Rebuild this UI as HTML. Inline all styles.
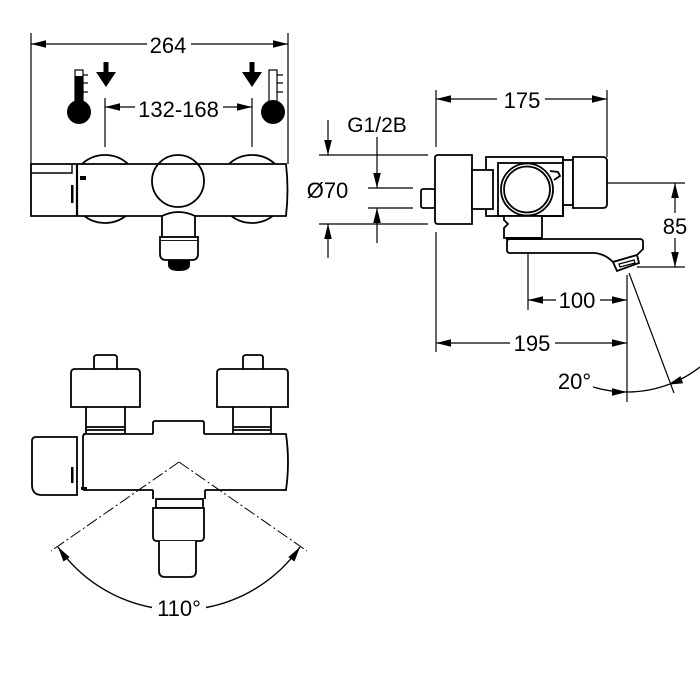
<!DOCTYPE html>
<html><head><meta charset="utf-8"><style>html,body{margin:0;padding:0;background:#fff}svg{display:block}text{font-family:"Liberation Sans",Arial,sans-serif;fill:#000}</style></head>
<body>
<svg width="700" height="700" viewBox="0 0 700 700" xmlns="http://www.w3.org/2000/svg">
<rect width="700" height="700" fill="#fff"/>

<!-- ===== FRONT VIEW ===== -->
<g stroke="#000" stroke-width="1.2" fill="none">
  <path d="M31,33 V164 M288,33 V164 M31,44 H147 M191,44 H288 M105,98 V147 M252,98 V147 M105,107 H135 M223,107 H252"/>
</g>
<g fill="#000">
  <polygon points="31,44 46,40.2 46,47.8"/>
  <polygon points="288,44 273,40.2 273,47.8"/>
  <polygon points="105,107 120,103.2 120,110.8"/>
  <polygon points="252,107 237,103.2 237,110.8"/>
  <!-- down arrows -->
  <rect x="103.5" y="62" width="5" height="11"/>
  <polygon points="96,72 116,72 106,87"/>
  <rect x="249.5" y="62" width="5" height="11"/>
  <polygon points="242,72 262,72 252,87"/>
</g>
<text x="168" y="53" font-size="22" text-anchor="middle">264</text>
<text x="178.5" y="117" font-size="22" text-anchor="middle">132-168</text>

<!-- thermometers -->
<rect x="75" y="70" width="8" height="38" fill="#fff" stroke="#000" stroke-width="1.2"/>
<rect x="75" y="76" width="8" height="32" fill="#000"/>
<circle cx="79" cy="112" r="12" fill="#000"/>
<path d="M83,75 H88 M83,83 H88 M83,92 H88" stroke="#000" stroke-width="1.2"/>
<rect x="269" y="70" width="8" height="36" fill="#fff" stroke="#000" stroke-width="1.2"/>
<circle cx="273" cy="112" r="12" fill="#000"/>
<path d="M277,75 H283 M277,83 H283 M277,92 H283" stroke="#000" stroke-width="1.2"/>

<g stroke="#000" stroke-width="1.8" fill="#fff">
  <circle cx="105" cy="189" r="34"/>
  <circle cx="252" cy="189" r="34"/>
  <path d="M31,164 H286 Q289,190 286,216 H31 Z"/>
  <circle cx="178" cy="181" r="26" fill="none"/>
  <path d="M162,238 V216 Q178.5,208 195,216 V238" fill="#fff"/>
  <rect x="160" y="237" width="38" height="4"/>
  <path d="M160,241 V254 Q160,260 166,260 H192 Q198,260 198,254 V241"/>
</g>
<path d="M31,173 H72 V164" stroke="#000" stroke-width="1.4" fill="none"/>
<path d="M77,164 V216" stroke="#000" stroke-width="2.2"/>
<rect x="80" y="176" width="6" height="4" fill="#000"/>
<rect x="71" y="185" width="2.5" height="18" fill="#000"/>
<path d="M168,260 H190 V265 Q190,271 179,271 Q168,271 168,265 Z" fill="#000"/>

<!-- ===== SIDE VIEW ===== -->
<g stroke="#000" stroke-width="1.2" fill="none">
  <path d="M436,90 V147 M436,232 V352 M607,90 V157 M436,99 H497 M545,99 H607
           M319,155 H428 M319,224 H428 M328,120 V155 M328,224 V258
           M368,188 H413 M368,208 H413 M377,137 V188 M377,208 V243
           M582,183 H685 M637,267 H685 M675,183 V213 M675,238 V267
           M528,247 V310 M528,300 H556 M600,300 H627
           M436,343 H510 M555,343 H627
           M627,275 V402 M629,273 L674,393"/>
  <path d="M593,387 A119,119 0 0,0 700,367" stroke-width="1.3"/>
</g>
<g fill="#000">
  <polygon points="436,99 451,95.2 451,102.8"/>
  <polygon points="607,99 592,95.2 592,102.8"/>
  <polygon points="328,155 324.2,140 331.8,140"/>
  <polygon points="328,224 324.2,239 331.8,239"/>
  <polygon points="377,188 373.2,173 380.8,173"/>
  <polygon points="377,208 373.2,223 380.8,223"/>
  <polygon points="675,183 671.2,198 678.8,198"/>
  <polygon points="675,267 671.2,252 678.8,252"/>
  <polygon points="528,300 543,296.2 543,303.8"/>
  <polygon points="627,300 612,296.2 612,303.8"/>
  <polygon points="436,343 451,339.2 451,346.8"/>
  <polygon points="627,343 612,339.2 612,346.8"/>
  <polygon points="627,392 612,388.2 612,395.8"/>
  <polygon points="667.7,384.8 680.5,376.1 683.1,383.3"/>
</g>
<text x="522" y="108" font-size="22" text-anchor="middle">175</text>
<text x="377" y="132" font-size="21" text-anchor="middle">G1/2B</text>
<text x="327.5" y="198" font-size="22" text-anchor="middle">Ø70</text>
<text x="675" y="234" font-size="22" text-anchor="middle">85</text>
<text x="577" y="308" font-size="22" text-anchor="middle">100</text>
<text x="532" y="351" font-size="22" text-anchor="middle">195</text>
<text x="574.5" y="389" font-size="22" text-anchor="middle">20°</text>

<g stroke="#000" stroke-width="1.8" fill="#fff">
  <rect x="421" y="189" width="14" height="19" rx="2"/>
  <path d="M438,155 H472 V224 H438 Q435,224 435,221 V158 Q435,155 438,155 Z"/>
  <rect x="486" y="157" width="77" height="59"/>
  <rect x="472" y="170" width="21" height="39"/>
  <rect x="498" y="163" width="65" height="53" fill="none"/>
  <circle cx="527" cy="189.5" r="26"/>
  <circle cx="527" cy="189.5" r="23" fill="none"/>
  <path d="M550,171 L558,172 L560,176 L554,180" fill="none"/>
  <rect x="563" y="160" width="10" height="45"/>
  <path d="M573,157 H603 Q607,157 607,161 V204 Q607,208 603,208 H573 Z"/>
  <path d="M542,216 V238 H504 V228 L508,224 L504,220 V216 Z"/>
  <path d="M510,239 H640 Q643,239 643,242 V249 L637,255 L613,262 Q605,254 595,253 H510 Q507,253 507,250 V242 Q507,239 510,239 Z"/>
  <polygon points="613,262 637,255 639,263 617,271"/>
  <polygon points="619,264 634,260 635,263 620,267" fill="none" stroke-width="1.2"/>
</g>
<path d="M506,238.5 H542" stroke="#000" stroke-width="3"/>

<!-- ===== BOTTOM VIEW ===== -->
<g stroke="#000" stroke-width="1.8" fill="#fff">
  <path d="M94,369 V358 Q94,355 97,355 H114 Q117,355 117,358 V369"/>
  <path d="M71,407 V373 Q71,369 75,369 H136 Q140,369 140,373 V407 Z"/>
  <path d="M86,407 V434 M125,407 V434 M86,427 H125 M86,430 H125" fill="none"/>
  <path d="M243,369 V358 Q243,355 246,355 H260 Q263,355 263,358 V369"/>
  <path d="M217,407 V373 Q217,369 221,369 H284 Q288,369 288,373 V407 Z"/>
  <path d="M233,407 V434 M271,407 V434 M233,427 H271 M233,430 H271" fill="none"/>
  <path d="M153,434 V423 Q153,421 155,421 H202 Q204,421 204,423 V434" fill="none"/>
  <path d="M83,434 H153 M204,434 H286 Q290,462 286,490 H205 M153,490 H83 M83,490 V437 Q83,434 86,434" fill="none"/>
  <path d="M36,437 H77 V495 H42 Q32,495 32,485 V441 Q32,437 36,437 Z"/>
  <path d="M153,490 V499 M205,490 V499" fill="none"/>
  <rect x="156" y="499" width="47" height="9"/>
  <path d="M153,508 V537 Q153,541 157,541 H200 Q204,541 204,537 V508 Z"/>
  <path d="M159,541 V571 Q159,577 165,577 H190 Q196,577 196,571 V541"/>
</g>
<rect x="71" y="467" width="2.5" height="16" fill="#000"/>
<rect x="81" y="487" width="6" height="3" fill="#000"/>
<path d="M179,462 L51,551 M179,462 L307,551" stroke="#000" stroke-width="1" stroke-dasharray="12 3 2 3" fill="none"/>
<path d="M58,547 A148,148 0 0,0 152,607.5 M206,607.5 A148,148 0 0,0 300,547" stroke="#000" stroke-width="1.4" fill="none"/>
<g fill="#000">
  <polygon points="58,547 69.7,557.1 63.5,561.5"/>
  <polygon points="300,547 288.3,557.1 294.5,561.5"/>
</g>
<text x="179" y="616" font-size="22" text-anchor="middle">110°</text>
</svg>
</body></html>
